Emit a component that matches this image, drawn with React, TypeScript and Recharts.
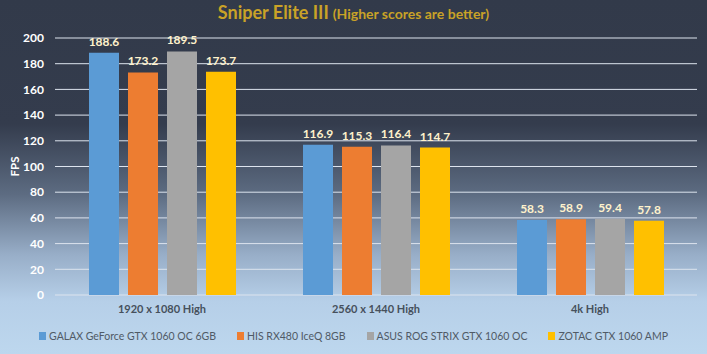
import React from "react";
import { BarChart, Bar, XAxis, YAxis, CartesianGrid, Legend, LabelList, Label } from "recharts";

const categories = ["1920 x 1080 High", "2560 x 1440 High", "4k High"];
const galax = [188.6, 116.9, 58.3];
const his = [173.2, 115.3, 58.9];
const asus = [189.5, 116.4, 59.4];
const zotac = [173.7, 114.7, 57.8];
const seriesNames = [
  "GALAX GeForce GTX 1060 OC 6GB",
  "HIS RX480 IceQ 8GB",
  "ASUS ROG STRIX GTX 1060 OC",
  "ZOTAC GTX 1060 AMP",
];
const yTicks = [0, 20, 40, 60, 80, 100, 120, 140, 160, 180, 200];

const data = categories.map((c, i) => ({
  name: c,
  galax: galax[i],
  his: his[i],
  asus: asus[i],
  zotac: zotac[i],
}));

const keys = ["galax", "his", "asus", "zotac"];
const colors = ["#5b9bd5", "#ed7d31", "#a5a5a5", "#ffc000"];
const FONT = "Lato, 'Open Sans', sans-serif";

const renderLegend = () => (
  <div
    style={{
      display: "flex",
      alignItems: "center",
      justifyContent: "center",
      paddingTop: 5,
      gap: 21,
      fontSize: 10.5,
      color: "#505a66",
      fontFamily: FONT,
      whiteSpace: "nowrap",
    }}
  >
    {seriesNames.map((n, i) => (
      <div key={n} style={{ display: "flex", alignItems: "center" }}>
        <span
          style={{ display: "inline-block", width: 7, height: 8, background: colors[i], marginRight: 3 }}
        />
        <span>{n}</span>
      </div>
    ))}
  </div>
);

export default function App() {
  return (
    <div
      style={{
        position: "absolute",
        left: 0,
        top: 0,
        width: 707,
        height: 354,
        background:
          "linear-gradient(to bottom, #323a4a 0%, #343c4d 35%, #5d6c82 55%, #98aec8 72%, #b6cfe8 85%, #bdd7ee 100%)",
        fontFamily: FONT,
      }}
    >
      <div
        style={{
          position: "absolute",
          top: 1,
          left: 0,
          width: 707,
          textAlign: "center",
          color: "#c9a227",
          fontWeight: 700,
          whiteSpace: "nowrap",
        }}
      >
        <span style={{ fontSize: 18 }}>Sniper Elite III</span>{" "}
        <span style={{ fontSize: 14 }}>(Higher scores are better)</span>
      </div>
      <BarChart
        width={707}
        height={354}
        data={data}
        margin={{ top: 38, right: 10, bottom: 0, left: 0 }}
        barSize={30}
        barGap={9}
      >
        <CartesianGrid vertical={false} stroke="#dde4ee" strokeWidth={1} />
        <XAxis
          dataKey="name"
          axisLine={false}
          tickLine={false}
          height={30}
          tickMargin={4}
          tick={{ fill: "#46505c", fontSize: 11, fontWeight: 700, fontFamily: FONT }}
        />
        <YAxis
          domain={[0, 200]}
          ticks={yTicks}
          width={55}
          axisLine={false}
          tickLine={false}
          tickMargin={5}
          tick={{ fill: "#ffffff", fontSize: 12, fontWeight: 700, fontFamily: FONT }}
        >
          <Label
            value="FPS"
            angle={-90}
            position="insideLeft"
            offset={15}
            style={{ fill: "#ffffff", fontSize: 11.5, fontWeight: 700, fontFamily: FONT, textAnchor: "middle" }}
          />
        </YAxis>
        <Legend
          verticalAlign="bottom"
          height={29}
          content={renderLegend}
          wrapperStyle={{ left: 0, width: 707 }}
        />
        {keys.map((k, i) => (
          <Bar key={k} dataKey={k} name={seriesNames[i]} fill={colors[i]} isAnimationActive={false}>
            <LabelList
              dataKey={k}
              position="top"
              offset={7}
              style={{ fill: "#fff2cc", fontSize: 12, fontWeight: 700, fontFamily: FONT }}
            />
          </Bar>
        ))}
      </BarChart>
    </div>
  );
}
